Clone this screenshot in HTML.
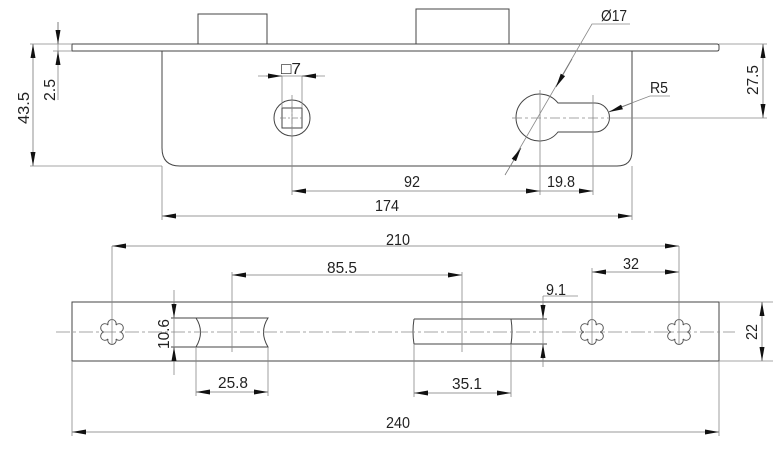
<!DOCTYPE html>
<html><head><meta charset="utf-8"><style>
html,body{margin:0;padding:0;background:#fff}
svg{display:block}
text{font-family:"Liberation Sans Narrow","Liberation Sans",sans-serif;font-size:16px;fill:#222}
</style></head><body>
<svg width="776" height="467" viewBox="0 0 776 467" xmlns="http://www.w3.org/2000/svg">
<defs>
<marker id="a" viewBox="0 0 14 5" refX="14" refY="2.5" markerWidth="14" markerHeight="5" markerUnits="userSpaceOnUse" orient="auto-start-reverse"><path d="M0,0 L14,2.5 L0,5 z" fill="#111"/></marker>
<path id="star" d="M-4,-6.93 A4.2,4.2 0 1 1 4,-6.93 A4.2,4.2 0 1 1 8,0 A4.2,4.2 0 1 1 4,6.93 A4.2,4.2 0 1 1 -4,6.93 A4.2,4.2 0 1 1 -8,0 A4.2,4.2 0 1 1 -4,-6.93 z" fill="none" stroke="#555" stroke-width="0.9"/>
</defs>
<g fill="none" stroke="#444" stroke-width="1">
<rect x="198" y="14" width="69" height="30"/>
<rect x="416" y="9" width="93" height="35"/>
<path d="M72,44 H717 Q719,44 719,46 V49 Q719,51 717,51 H72 Z"/>
<path d="M162,51 V148 Q162,166 180,166 H617 Q632,166 632,151 V51"/>
<circle cx="292" cy="118" r="18"/>
<rect x="282" y="108" width="20" height="20"/>
<path d="M558,103 H595 A14.5,14.5 0 0 1 595,132 H558 A23.5,23.5 0 1 1 558,103 Z"/>
<rect x="72" y="302" width="647" height="59"/>
<path d="M171,318 H268 Q259,332 268,347 H171 M196,318 Q205,332 196,347"/>
<path d="M414,319 H547 M414,344 H547 M414,319 Q412,332 414,344 M511,319 Q513,332 511,344"/>
</g>
<use href="#star" x="112" y="332"/>
<use href="#star" x="592" y="332"/>
<use href="#star" x="679" y="332"/>
<g fill="none" stroke="#888" stroke-width="0.8">
<path d="M30,44 H72 M53,51 H72 M30,166 H162 M58,22 V100"/>
<path d="M292,95 V195 M282,76 V108 M302,76 V108 M258,76 H325"/>
<path d="M540,90 V195 M593,95 V195 M162,166 V220 M632,166 V220"/>
<path d="M719,44 H767 M608,118 H767" />
<path d="M280,118 H304 M292,106 V130" stroke-dasharray="6,2,2,2"/>
<path d="M512,118 H608" stroke-dasharray="10,3,3,3"/>
<path d="M513,160 L592,24 H630"/>
<path d="M608,112 L650,96 H670"/>
<path d="M56,332 H735" stroke-dasharray="14,3,3,3"/>
<path d="M112,246 V344 M679,246 V344 M592,268 V344"/>
<path d="M232,272 V352 M462,272 V352"/>
<path d="M174,290 V375 M196,347 V396 M268,347 V396 M414,344 V397 M511,344 V397"/>
<path d="M543,296 V367 M543,296 H578"/>
<path d="M719,302 H773 M719,361 H773 M72,361 V436 M719,361 V436"/>
</g>
<g stroke="#777" stroke-width="0.8" fill="none">
<line x1="58" y1="22" x2="58" y2="44" marker-end="url(#a)"/>
<line x1="58" y1="51" x2="58" y2="65" marker-start="url(#a)"/>
<line x1="33" y1="44" x2="33" y2="166" marker-start="url(#a)" marker-end="url(#a)"/>
<line x1="266" y1="76" x2="282" y2="76" marker-end="url(#a)"/>
<line x1="302" y1="76" x2="318" y2="76" marker-start="url(#a)"/>
<line x1="292" y1="191" x2="540" y2="191" marker-start="url(#a)" marker-end="url(#a)"/>
<line x1="540" y1="191" x2="593" y2="191" marker-end="url(#a)"/>
<line x1="162" y1="216" x2="632" y2="216" marker-start="url(#a)" marker-end="url(#a)"/>
<line x1="763" y1="44" x2="763" y2="118" marker-start="url(#a)" marker-end="url(#a)"/>
<line x1="572" y1="59" x2="556" y2="87" marker-end="url(#a)"/>
<line x1="505" y1="175" x2="521" y2="148" marker-end="url(#a)"/>
<line x1="632" y1="103" x2="609" y2="112" marker-end="url(#a)"/>
<line x1="112" y1="246" x2="679" y2="246" marker-start="url(#a)" marker-end="url(#a)"/>
<line x1="232" y1="275" x2="462" y2="275" marker-start="url(#a)" marker-end="url(#a)"/>
<line x1="592" y1="272" x2="679" y2="272" marker-start="url(#a)" marker-end="url(#a)"/>
<line x1="174" y1="302" x2="174" y2="318" marker-end="url(#a)"/>
<line x1="174" y1="347" x2="174" y2="362" marker-start="url(#a)"/>
<line x1="543" y1="304" x2="543" y2="319" marker-end="url(#a)"/>
<line x1="543" y1="344" x2="543" y2="359" marker-start="url(#a)"/>
<line x1="762" y1="302" x2="762" y2="361" marker-start="url(#a)" marker-end="url(#a)"/>
<line x1="196" y1="392" x2="268" y2="392" marker-start="url(#a)" marker-end="url(#a)"/>
<line x1="414" y1="393" x2="511" y2="393" marker-start="url(#a)" marker-end="url(#a)"/>
<line x1="72" y1="432" x2="719" y2="432" marker-start="url(#a)" marker-end="url(#a)"/>
</g>
<g>
<text x="281" y="74" textLength="20" lengthAdjust="spacingAndGlyphs">□7</text>
<text x="601" y="21" textLength="26" lengthAdjust="spacingAndGlyphs">Ø17</text>
<text x="650" y="93" textLength="18" lengthAdjust="spacingAndGlyphs">R5</text>
<text x="404" y="187" textLength="16" lengthAdjust="spacingAndGlyphs">92</text>
<text x="547" y="187" textLength="28" lengthAdjust="spacingAndGlyphs">19.8</text>
<text x="375" y="211" textLength="24" lengthAdjust="spacingAndGlyphs">174</text>
<text transform="translate(55,101) rotate(-90)" textLength="22" lengthAdjust="spacingAndGlyphs">2.5</text>
<text transform="translate(29,124) rotate(-90)" textLength="32" lengthAdjust="spacingAndGlyphs">43.5</text>
<text transform="translate(758,95) rotate(-90)" textLength="30" lengthAdjust="spacingAndGlyphs">27.5</text>
<text x="386" y="245" textLength="24" lengthAdjust="spacingAndGlyphs">210</text>
<text x="327" y="273" textLength="30" lengthAdjust="spacingAndGlyphs">85.5</text>
<text x="623" y="269" textLength="16" lengthAdjust="spacingAndGlyphs">32</text>
<text x="546" y="295" textLength="20" lengthAdjust="spacingAndGlyphs">9.1</text>
<text transform="translate(169,349) rotate(-90)" textLength="30" lengthAdjust="spacingAndGlyphs">10.6</text>
<text transform="translate(757,340) rotate(-90)" textLength="16" lengthAdjust="spacingAndGlyphs">22</text>
<text x="218" y="388" textLength="30" lengthAdjust="spacingAndGlyphs">25.8</text>
<text x="452" y="389" textLength="30" lengthAdjust="spacingAndGlyphs">35.1</text>
<text x="386" y="428" textLength="24" lengthAdjust="spacingAndGlyphs">240</text>
</g>
</svg>
</body></html>
